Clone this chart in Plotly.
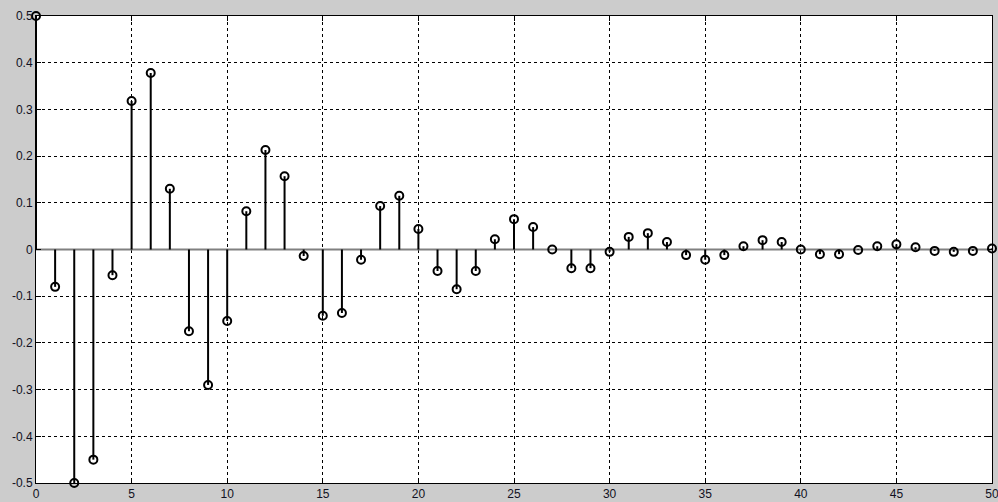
import plotly.graph_objects as go

n_values = list(range(0, 51))
h_values = [0.5, -0.08, -0.5, -0.45, -0.055, 0.318, 0.378, 0.13, -0.175, -0.29,
            -0.153, 0.082, 0.213, 0.157, -0.014, -0.142, -0.136, -0.022, 0.093, 0.115,
            0.044, -0.046, -0.085, -0.046, 0.022, 0.065, 0.048, 0.0, -0.04, -0.04,
            -0.005, 0.027, 0.035, 0.016, -0.012, -0.022, -0.012, 0.007, 0.02, 0.016,
            0.0, -0.01, -0.01, -0.001, 0.007, 0.011, 0.005, -0.003, -0.005, -0.003,
            0.002]

x_ticks = [0, 5, 10, 15, 20, 25, 30, 35, 40, 45, 50]
y_ticks = [-0.5, -0.4, -0.3, -0.2, -0.1, 0, 0.1, 0.2, 0.3, 0.4, 0.5]
y_tick_text = ["-0.5", "-0.4", "-0.3", "-0.2", "-0.1", "0", "0.1", "0.2", "0.3", "0.4", "0.5"]

stem_x, stem_y = [], []
for n, h in zip(n_values, h_values):
    stem_x += [n, n, None]
    stem_y += [0, h, None]

fig = go.Figure()
fig.add_trace(go.Scatter(x=[x_ticks[0], x_ticks[-1]], y=[0, 0], mode="lines",
                         line=dict(color="#808080", width=2), hoverinfo="skip"))
fig.add_trace(go.Scatter(x=stem_x, y=stem_y, mode="lines",
                         line=dict(color="black", width=2), hoverinfo="skip", cliponaxis=False))
fig.add_trace(go.Scatter(x=n_values, y=h_values, mode="markers",
                         marker=dict(symbol="circle-open", color="black", size=8,
                                     line=dict(width=2, color="black")),
                         cliponaxis=False))

axis_font = dict(family="Arial, Liberation Sans, sans-serif", size=12, color="#111122")
fig.update_layout(
    width=998, height=502,
    margin=dict(l=36, r=6, t=16, b=19),
    paper_bgcolor="#cccccc", plot_bgcolor="white",
    showlegend=False,
    xaxis=dict(range=[0, 50], tickvals=x_ticks, ticks="inside", ticklen=5,
               tickcolor="black", showline=True, linecolor="black", linewidth=1,
               mirror="ticks", showgrid=True, gridcolor="black", griddash="3px,3px",
               gridwidth=1, zeroline=False, tickfont=axis_font, ticklabelstandoff=0,
               automargin=False, ticklabeloverflow="allow"),
    yaxis=dict(range=[-0.5, 0.5], tickvals=y_ticks, ticktext=y_tick_text,
               ticks="inside", ticklen=5, tickcolor="black", showline=True,
               linecolor="black", linewidth=1, mirror="ticks", showgrid=True,
               gridcolor="black", griddash="3px,3px", gridwidth=1, zeroline=False,
               tickfont=axis_font, ticklabelstandoff=0, automargin=False,
               ticklabeloverflow="allow"),
)

fig.write_html("out.html")
